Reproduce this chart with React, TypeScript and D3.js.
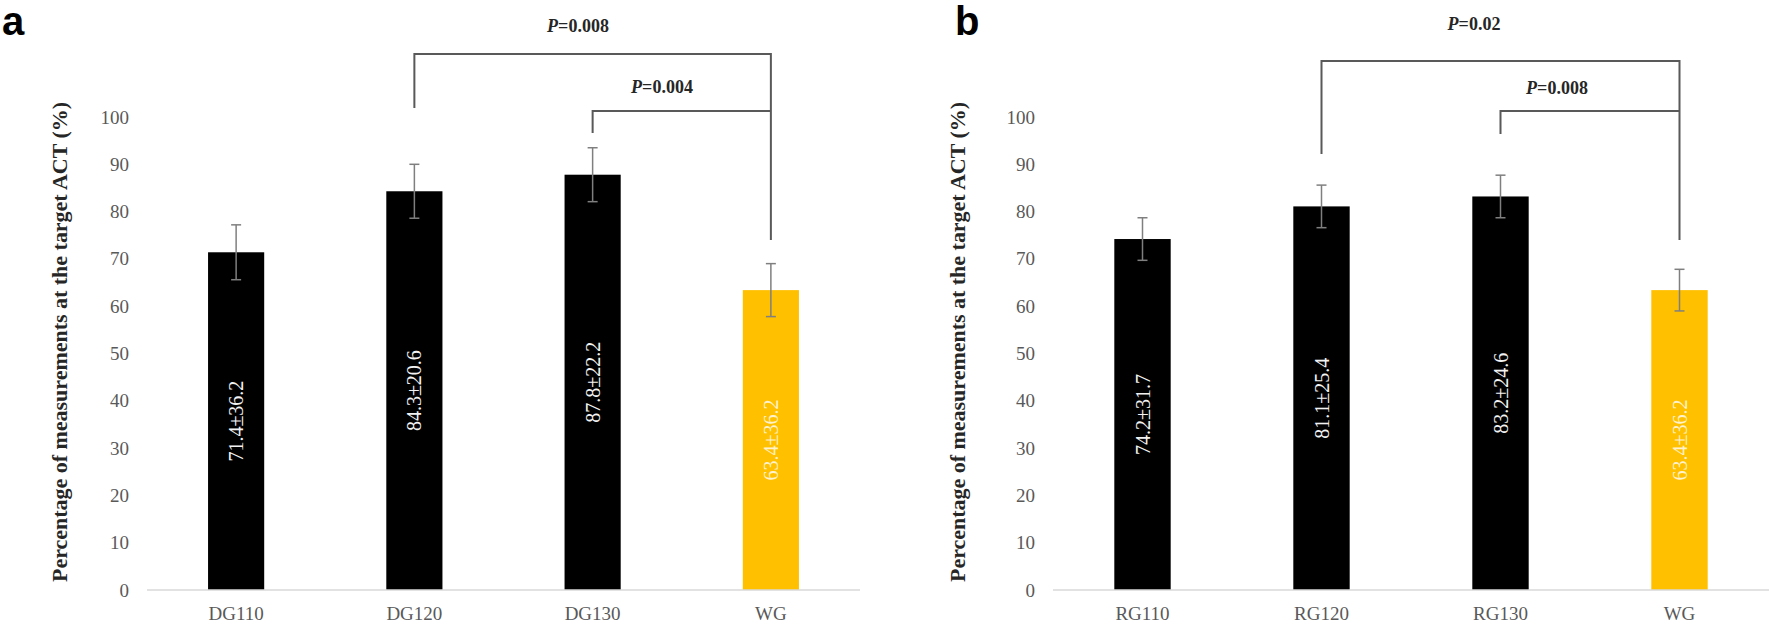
import React from "react";
import * as d3 from "d3";

const catsA = ["DG110", "DG120", "DG130", "WG"];
const valsA = [71.4, 84.3, 87.8, 63.4];
const errsA = [5.8, 5.7, 5.7, 5.6];
const labelsA = ["71.4±36.2", "84.3±20.6", "87.8±22.2", "63.4±36.2"];
const compsA = [
  { from: "DG120", to: "WG", p: "0.008" },
  { from: "DG130", to: "WG", p: "0.004" },
];

const catsB = ["RG110", "RG120", "RG130", "WG"];
const valsB = [74.2, 81.1, 83.2, 63.4];
const errsB = [4.5, 4.5, 4.5, 4.4];
const labelsB = ["74.2±31.7", "81.1±25.4", "83.2±24.6", "63.4±36.2"];
const compsB = [
  { from: "RG120", to: "WG", p: "0.02" },
  { from: "RG130", to: "WG", p: "0.008" },
];

const yTicks = [0, 10, 20, 30, 40, 50, 60, 70, 80, 90, 100];
const yTitle = "Percentage of measurements at the target ACT (%)";

const SERIF = "'Liberation Serif', 'Times New Roman', serif";
const SANS = "'Liberation Sans', Arial, sans-serif";

type Comp = { from: string; to: string; p: string };

function Panel(props: {
  letter: string;
  letterX: number;
  x0: number;
  x1: number;
  titleX: number;
  cats: string[];
  vals: number[];
  errs: number[];
  labels: string[];
  comps: Comp[];
  outerTop: number;
  outerLeftBottom: number;
  innerTop: number;
  innerLeftBottom: number;
  rightBottom: number;
  pOuter: [number, number];
  pInner: [number, number];
}) {
  const { cats, vals, errs, labels, comps } = props;
  const x = d3.scaleBand<string>().domain(cats).range([props.x0, props.x1]).paddingInner(0.685).paddingOuter(0.3425);
  const y = d3.scaleLinear().domain([0, 100]).range([590, 117]);
  const bw = x.bandwidth();
  const cx = (c: string) => (x(c) as number) + bw / 2;
  const isWG = (c: string) => c === "WG";

  const outer = comps[0];
  const inner = comps[1];

  return (
    <g>
      <text x={props.letterX} y={35} fontFamily={SANS} fontWeight="bold" fontSize={40} fill="#000">
        {props.letter}
      </text>
      <text
        transform={`translate(${props.titleX},342) rotate(-90)`}
        textAnchor="middle"
        dominantBaseline="central"
        fontFamily={SERIF}
        fontWeight="bold"
        fontSize={21}
        fill="#262626"
        textLength={480}
        lengthAdjust="spacingAndGlyphs"
      >
        {yTitle}
      </text>
      {yTicks.map((t) => (
        <text
          key={t}
          x={props.x0 - 18}
          y={y(t)}
          textAnchor="end"
          dominantBaseline="central"
          fontFamily={SERIF}
          fontSize={19}
          fill="#595959"
        >
          {t}
        </text>
      ))}
      {cats.map((c, i) => (
        <rect
          key={c}
          x={x(c)}
          y={y(vals[i])}
          width={bw}
          height={y(0) - y(vals[i])}
          fill={isWG(c) ? "#FFC000" : "#000"}
        />
      ))}
      <line x1={props.x0} x2={props.x1} y1={y(0)} y2={y(0)} stroke="#d9d9d9" strokeWidth={1.5} />
      {cats.map((c, i) => {
        const X = cx(c);
        const t = y(vals[i] + errs[i]);
        const b = y(vals[i] - errs[i]);
        return (
          <g key={c} stroke="#7f7f7f" strokeWidth={1.5}>
            <line x1={X} x2={X} y1={t} y2={b} />
            <line x1={X - 5} x2={X + 5} y1={t} y2={t} />
            <line x1={X - 5} x2={X + 5} y1={b} y2={b} />
          </g>
        );
      })}
      {cats.map((c, i) => {
        const mid = (y(0) + y(vals[i])) / 2;
        return (
          <text
            key={c}
            transform={`translate(${cx(c)},${mid}) rotate(-90)`}
            textAnchor="middle"
            dominantBaseline="central"
            fontFamily={SERIF}
            fontSize={20}
            fill={isWG(c) ? "#fff2cc" : "#f2f2f2"}
          >
            {labels[i]}
          </text>
        );
      })}
      {cats.map((c) => (
        <text
          key={c}
          x={cx(c)}
          y={613}
          textAnchor="middle"
          dominantBaseline="central"
          fontFamily={SERIF}
          fontSize={19}
          fill="#595959"
        >
          {c}
        </text>
      ))}
      <g stroke="#595959" strokeWidth={2} fill="none">
        <polyline
          points={`${cx(outer.from)},${props.outerLeftBottom} ${cx(outer.from)},${props.outerTop} ${cx(outer.to)},${props.outerTop} ${cx(outer.to)},${props.rightBottom}`}
        />
        <polyline
          points={`${cx(inner.from)},${props.innerLeftBottom} ${cx(inner.from)},${props.innerTop} ${cx(inner.to)},${props.innerTop}`}
        />
      </g>
      <text
        x={props.pOuter[0]}
        y={props.pOuter[1]}
        textAnchor="middle"
        dominantBaseline="central"
        fontFamily={SERIF}
        fontWeight="bold"
        fontSize={18}
        fill="#262626"
      >
        <tspan fontStyle="italic">P</tspan>={outer.p}
      </text>
      <text
        x={props.pInner[0]}
        y={props.pInner[1]}
        textAnchor="middle"
        dominantBaseline="central"
        fontFamily={SERIF}
        fontWeight="bold"
        fontSize={18}
        fill="#262626"
      >
        <tspan fontStyle="italic">P</tspan>={inner.p}
      </text>
    </g>
  );
}

export default function App() {
  return (
    <svg
      width={1770}
      height={624}
      style={{ position: "absolute", left: 0, top: 0, background: "#fff" }}
    >
      <rect width={1770} height={624} fill="#fff" />
      <Panel
        letter="a"
        letterX={2}
        x0={147}
        x1={860}
        titleX={60}
        cats={catsA}
        vals={valsA}
        errs={errsA}
        labels={labelsA}
        comps={compsA}
        outerTop={54}
        outerLeftBottom={108}
        innerTop={111}
        innerLeftBottom={133}
        rightBottom={240}
        pOuter={[578, 26]}
        pInner={[662, 87]}
      />
      <Panel
        letter="b"
        letterX={955}
        x0={1053}
        x1={1769}
        titleX={958}
        cats={catsB}
        vals={valsB}
        errs={errsB}
        labels={labelsB}
        comps={compsB}
        outerTop={61}
        outerLeftBottom={154}
        innerTop={111}
        innerLeftBottom={134}
        rightBottom={240}
        pOuter={[1474, 24]}
        pInner={[1557, 88]}
      />
    </svg>
  );
}
